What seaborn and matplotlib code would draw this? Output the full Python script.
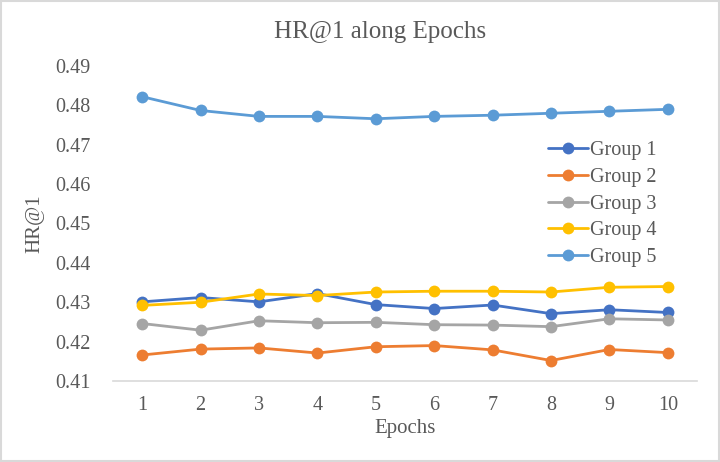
import matplotlib
matplotlib.use('Agg')
import matplotlib.pyplot as plt
import seaborn as sns
import pandas as pd

epochs = [1, 2, 3, 4, 5, 6, 7, 8, 9, 10]
group1 = [0.4301, 0.4312, 0.4301, 0.4322, 0.4294, 0.4284, 0.4293, 0.4271, 0.4281, 0.4274]
group2 = [0.4166, 0.4181, 0.4184, 0.4171, 0.4187, 0.4190, 0.4179, 0.4152, 0.4180, 0.4172]
group3 = [0.4246, 0.4229, 0.4253, 0.4248, 0.4249, 0.4243, 0.4242, 0.4238, 0.4258, 0.4255]
group4 = [0.4292, 0.4300, 0.4321, 0.4317, 0.4326, 0.4328, 0.4328, 0.4326, 0.4338, 0.4340]
group5 = [0.4822, 0.4787, 0.4772, 0.4772, 0.4766, 0.4772, 0.4775, 0.4780, 0.4785, 0.4790]
groups = ['Group 1', 'Group 2', 'Group 3', 'Group 4', 'Group 5']
colors = ['#4472C4', '#ED7D31', '#A5A5A5', '#FFC000', '#5B9BD5']
y_ticks = [0.41, 0.42, 0.43, 0.44, 0.45, 0.46, 0.47, 0.48, 0.49]

sns.set_style('white')
plt.rcParams['font.family'] = ['Liberation Serif', 'DejaVu Serif']
text_color = '#595959'

rows = []
for name, vals in zip(groups, [group1, group2, group3, group4, group5]):
    for e, v in zip(epochs, vals):
        rows.append({'Epochs': e, 'HR@1': v, 'group': name})
df = pd.DataFrame(rows)

fig = plt.figure(figsize=(7.2, 4.62), dpi=100)
ax = fig.add_axes([113 / 720, 1 - 381 / 462, 584 / 720, 315 / 462])

sns.lineplot(data=df, x='Epochs', y='HR@1', hue='group', palette=colors,
             marker='o', markersize=8.5, markeredgewidth=0, linewidth=2.0, ax=ax)

ax.set_xlim(0.5, 10.5)
ax.set_ylim(0.41, 0.49)
ax.set_xticks(epochs)
ax.set_yticks(y_ticks)
ax.set_yticklabels([f'{t:.2f}' for t in y_ticks])
ax.tick_params(axis='both', length=0, labelsize=14.5, colors=text_color)
ax.tick_params(axis='x', pad=11)
ax.tick_params(axis='y', pad=16)

for s in ['top', 'right', 'left']:
    ax.spines[s].set_visible(False)
ax.spines['bottom'].set_color('#D9D9D9')
ax.spines['bottom'].set_linewidth(1.2)

ax.set_xlabel('Epochs', fontsize=15, color=text_color, labelpad=3)
ax.set_ylabel('HR@1', fontsize=15, color=text_color, labelpad=8)
fig.text(380 / 720, 1 - 32 / 462, 'HR@1 along Epochs', fontsize=18,
         color=text_color, ha='center', va='center')

leg = ax.legend(loc='upper left', bbox_to_anchor=((540 - 113) / 584, (381 - 133) / 315),
                frameon=False, fontsize=14.5, handlelength=2.0, handletextpad=0.1,
                labelspacing=0.38, borderaxespad=0)
for t in leg.get_texts():
    t.set_color(text_color)

fig.patches.append(plt.Rectangle((0.002, 0.003), 0.996, 0.994, transform=fig.transFigure,
                                 fill=False, edgecolor='#D9D9D9', linewidth=1.5))

fig.savefig('out.png', dpi=100)
